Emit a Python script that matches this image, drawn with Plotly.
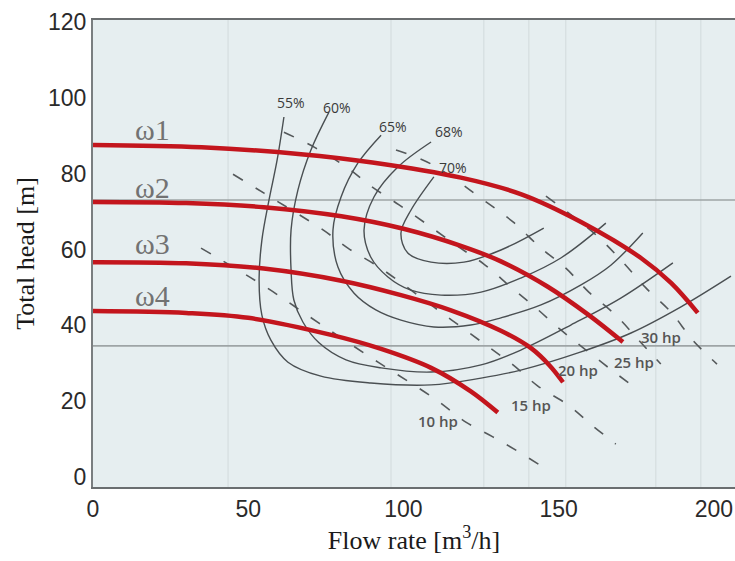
import plotly.graph_objects as go

# ---------------- data ----------------
# Head curves at four speeds: flow [m3/h], head [m]
speed_names = ["ω1", "ω2", "ω3", "ω4"]
w1_q = [0, 35, 67, 90, 118.5, 138, 157.2, 176.5, 186.2, 194.8]
w1_h = [87.6, 87.0, 85.2, 83.0, 79.0, 74.6, 67.3, 57.8, 51.2, 43.3]
w2_q = [0, 30, 55, 80, 100, 118.5, 131.4, 146.5, 159.4, 170.7]
w2_h = [72.6, 72.3, 71.2, 68.8, 65.5, 61.0, 56.9, 50.2, 42.9, 35.6]
w3_q = [0, 30, 55, 80, 99.2, 115.3, 131.4, 141.1, 147.0, 151.4]
w3_h = [56.7, 56.4, 55.0, 51.8, 48.0, 44.0, 38.6, 34.0, 29.5, 25.0]
w4_q = [0, 30, 50, 76.7, 92.8, 108.9, 121.7, 130.4]
w4_h = [43.8, 43.3, 42.0, 37.5, 33.8, 28.8, 22.6, 17.0]
speed_label_q = [19.3, 19.3, 19.3, 19.3]
speed_label_h = [91.6, 76.3, 61.7, 48.0]

# Efficiency contours
eff_names = ["55%", "60%", "65%", "68%", "70%"]
e55_q = [61.5, 59.3, 56.7, 54.4, 53.5, 54.4, 57.3, 62.8, 73.4, 89.5, 108.9, 125.0, 137.8, 157.2, 173.3, 189.4, 205.5]
e55_h = [95.0, 83.6, 73.1, 62.5, 52.0, 42.7, 36.1, 30.3, 26.6, 24.8, 24.3, 26.1, 28.2, 33.0, 38.0, 44.9, 53.0]
e60_q = [76.0, 70.2, 66.0, 63.8, 63.8, 64.7, 67.6, 72.8, 81.5, 92.8, 108.9, 125.0, 137.8, 153.9, 170.0, 186.8]
e60_h = [96.3, 86.3, 75.7, 65.2, 54.6, 46.7, 40.9, 35.4, 30.9, 28.8, 27.7, 29.6, 33.5, 40.1, 47.2, 56.5]
e65_q = [92.8, 85.3, 79.9, 77.3, 78.9, 84.1, 91.1, 99.2, 109.8, 121.7, 131.4, 144.3, 157.2, 166.8, 177.1]
e65_h = [90.2, 82.8, 73.9, 65.2, 55.4, 48.5, 44.1, 41.4, 39.6, 40.1, 42.0, 45.4, 50.7, 55.9, 64.4]
e68_q = [108.9, 98.2, 90.5, 87.3, 89.5, 95.0, 102.4, 112.1, 125.0, 137.8, 150.7, 165.2]
e68_h = [88.4, 81.8, 73.9, 65.2, 58.0, 52.8, 49.3, 48.0, 48.8, 52.5, 57.8, 67.0]
e70_q = [109.8, 102.4, 99.2, 101.4, 108.9, 119.5, 131.4, 145.2]
e70_h = [79.2, 70.4, 64.4, 59.1, 56.7, 56.7, 59.9, 65.7]
eff_label_q = [63.8, 78.6, 96.6, 114.7, 115.9]
eff_label_h = [98.7, 97.6, 92.6, 91.3, 81.8]

# Power lines
hp_names = ["10 hp", "15 hp", "20 hp", "25 hp", "30 hp"]
p10_q = [34.8, 55.7, 72.8, 91.8, 109.8, 120.1, 128.8, 137.2, 147.5]
p10_h = [60.4, 50.1, 40.6, 30.3, 20.8, 14.5, 10.6, 6.6, 1.3]
p15_q = [45.1, 55.1, 74.1, 82.1, 92.1, 108.9, 126.6, 135.3, 143.3, 153.0, 161.4, 168.4]
p15_h = [79.9, 74.9, 65.2, 60.4, 55.4, 45.4, 34.8, 29.6, 24.0, 19.0, 13.2, 8.7]
p20_q = [61.5, 71.8, 82.1, 89.5, 98.6, 107.9, 116.9, 125.9, 134.6, 142.7, 150.7, 158.8, 167.1, 175.5]
p20_h = [91.0, 86.8, 81.5, 76.8, 71.8, 66.5, 61.2, 56.2, 50.1, 44.6, 38.8, 33.5, 28.2, 23.0]
p25_q = [97.6, 108.9, 126.6, 135.3, 144.3, 152.3, 159.7, 168.4, 175.8, 182.9]
p25_h = [86.3, 82.6, 72.6, 67.3, 60.4, 55.1, 48.8, 42.7, 36.1, 29.8]
p30_q = [145.9, 162.0, 170.7, 178.1, 186.2, 193.2, 201.0]
p30_h = [74.1, 63.9, 56.7, 49.9, 43.5, 36.1, 29.8]
hp_label_q = [111.1, 141.1, 156.2, 174.2, 182.9]
hp_label_h = [14.8, 19.0, 28.2, 30.3, 36.9]

# Reference lines of the background sheet
sheet_h_lines = [73.1, 34.6]
sheet_q_lines = [43.5, 96.0, 125.9, 140.4, 152.3, 181.3, 195.8]

x_ticks = [0, 50, 100, 150, 200]
y_ticks = [0, 20, 40, 60, 80, 100, 120]

# ---------------- figure ----------------
fig = go.Figure()

x_range = [0, 206.8]
y_range = [-2.64, 120.6]

for q in sheet_q_lines:
    fig.add_trace(go.Scatter(x=[q, q], y=y_range, mode="lines",
                             line=dict(color="#d2dadc", width=1), hoverinfo="skip"))
for h in sheet_h_lines:
    fig.add_trace(go.Scatter(x=x_range, y=[h, h], mode="lines",
                             line=dict(color="#9ea4a6", width=1.6), hoverinfo="skip"))

for q, h in [(p10_q, p10_h), (p15_q, p15_h), (p20_q, p20_h), (p25_q, p25_h), (p30_q, p30_h)]:
    fig.add_trace(go.Scatter(x=q, y=h, mode="lines", line_shape="spline",
                             line=dict(color="#55595b", width=1.6, dash="11px,15px")))

for q, h in [(e55_q, e55_h), (e60_q, e60_h), (e65_q, e65_h), (e68_q, e68_h), (e70_q, e70_h)]:
    fig.add_trace(go.Scatter(x=q, y=h, mode="lines", line_shape="spline",
                             line=dict(color="#4a4f52", width=1.4)))

for q, h in [(w1_q, w1_h), (w2_q, w2_h), (w3_q, w3_h), (w4_q, w4_h)]:
    fig.add_trace(go.Scatter(x=q, y=h, mode="lines", line_shape="spline",
                             line=dict(color="#c3151d", width=4.5)))

annotations = []
for name, q, h in zip(speed_names, speed_label_q, speed_label_h):
    annotations.append(dict(x=q, y=h, text=name, showarrow=False,
                            font=dict(family="Liberation Serif", size=30, color="#727272")))
for name, q, h in zip(eff_names, eff_label_q, eff_label_h):
    annotations.append(dict(x=q, y=h, text=name, showarrow=False,
                            font=dict(family="Open Sans", size=14, color="#3a3a3a")))
for name, q, h in zip(hp_names, hp_label_q, hp_label_h):
    annotations.append(dict(x=q, y=h, text=name, showarrow=False,
                            font=dict(family="Open Sans", size=15, color="#555555", weight=600)))

fig.update_layout(
    width=735, height=561,
    margin=dict(l=93, r=0, t=20, b=74),
    paper_bgcolor="white",
    plot_bgcolor="#e6eef0",
    showlegend=False,
    annotations=annotations,
    xaxis=dict(range=x_range, tickvals=x_ticks, showgrid=False, zeroline=False,
               showline=True, linecolor="#6a6e70", linewidth=2, mirror=True,
               ticks="", tickfont=dict(family="Liberation Sans", size=23, color="#2a2a2a"),
               title=dict(text="Flow rate [m<sup>3</sup>/h]", standoff=4,
                          font=dict(family="Liberation Serif", size=26, color="#1a1a1a"))),
    yaxis=dict(range=y_range, tickvals=y_ticks, showgrid=False, zeroline=False,
               showline=True, linecolor="#7a7e80", linewidth=2, mirror=False,
               ticks="", tickfont=dict(family="Liberation Sans", size=23, color="#2a2a2a"),
               title=dict(text="Total head [m]", standoff=6,
                          font=dict(family="Liberation Serif", size=26, color="#1a1a1a"))),
)

fig.write_html("out.html")
